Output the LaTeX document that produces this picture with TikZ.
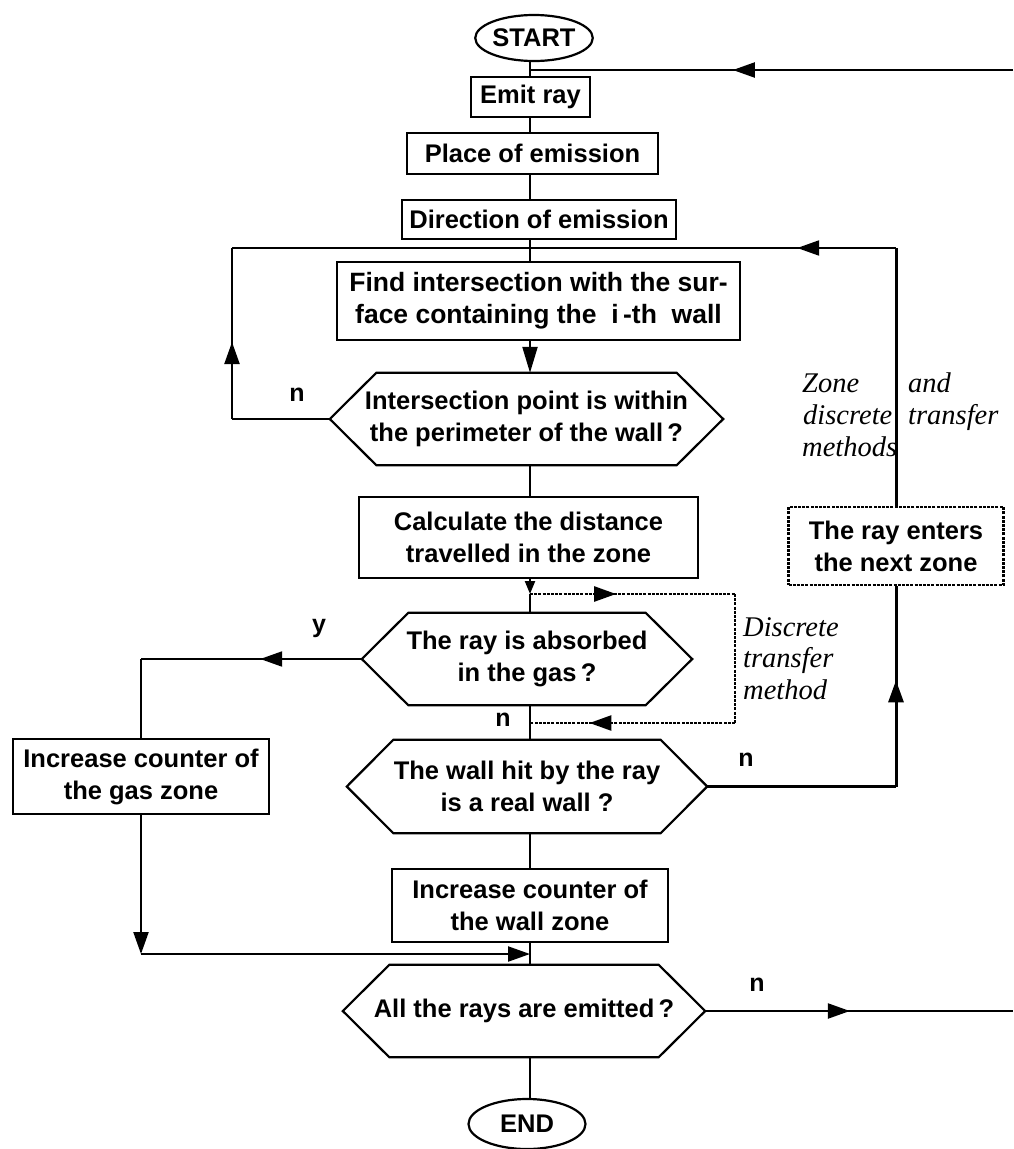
\documentclass[tikz,border=0pt]{standalone}
\usepackage{fontspec}
\setmainfont{Liberation Sans}
\newfontfamily\serifit{Liberation Serif}
\usetikzlibrary{arrows.meta,decorations.markings,calc,shapes.geometric}
\tikzset{
  txt/.style={font=\bfseries\fontsize{25.5}{32}\selectfont},
  box/.style={txt, draw, line width=2pt, rectangle, inner sep=0pt, align=center},
  hexn/.style={txt, rectangle, inner sep=0pt, align=center},
  hexline/.style={line width=2.2pt, line join=miter},
  oval/.style={txt, draw, ellipse, line width=2.2pt, inner sep=0pt},
  flow/.style={line width=2.2pt},
  thickflow/.style={line width=3pt},
  dotl/.style={line width=2.6pt, dash pattern=on 3pt off 1.2pt},
  tipend/.style={-{Triangle[length=22pt,width=15pt]}},
  midarrow/.style={postaction={decorate}, decoration={markings, mark=at position #1 with {\arrow{Triangle[length=22pt,width=15pt]}}}},
  lbl/.style={font=\bfseries\fontsize{25}{30}\selectfont, inner sep=0pt},
  note/.style={font=\serifit\itshape\fontsize{28.5}{31.5}\selectfont, inner sep=0pt, anchor=base west},
}
\newcommand\hexdraw[1]{\draw[hexline] (#1.west) -- ($(#1.north west)+(46.5,0)$) -- ($(#1.north east)+(-46.5,0)$) -- (#1.east) -- ($(#1.south east)+(-46.5,0)$) -- ($(#1.south west)+(46.5,0)$) -- cycle;}
\begin{document}
\begin{tikzpicture}[x=1pt,y=-1pt]
\useasboundingbox[fill=white] (0,0) rectangle (1013,1149);
\coordinate (mx) at (530,0);
% nodes
\node[oval, minimum width=116pt, minimum height=46pt] (start) at (534,38) {START};
\node[box, minimum width=119pt, minimum height=40pt] (emit) at (530.5,97) {Emit ray};
\node[box, minimum width=251pt, minimum height=41pt] (place) at (532.5,153.5) {Place of emission};
\node[box, minimum width=274pt, minimum height=39pt] (dir) at (539,219.5) {Direction of emission};
\node[box, minimum width=403pt, minimum height=78pt] (find) at (538.5,301) {\fontsize{26.5}{32}\selectfont Find intersection with the sur-\\\fontsize{26.5}{32}\selectfont face containing the\ \ i\,-th\ \ wall};
\node[hexn, minimum width=393pt, minimum height=92pt] (h1) at (526.5,419) {Intersection point is within\\the perimeter of the wall\,?};
\hexdraw{h1}
\node[box, minimum width=339pt, minimum height=81pt] (calc) at (528.5,537.5) {Calculate the distance\\travelled in the zone};
\node[hexn, minimum width=330pt, minimum height=92pt] (h2) at (527,659) {The ray is absorbed\\in the gas\,?};
\hexdraw{h2}
\node[hexn, minimum width=360pt, minimum height=93pt] (h3) at (527,786.5) {The wall hit by the ray\\is a real wall ?};
\hexdraw{h3}
\node[box, minimum width=276pt, minimum height=73pt] (wallz) at (530,905.5) {Increase counter of\\the wall zone};
\node[hexn, minimum width=362pt, minimum height=92pt] (h4) at (524,1011) {All the rays are emitted\,?};
\hexdraw{h4}
\node[oval, minimum width=117pt, minimum height=50pt] (end) at (527,1124) {END};
\node[box, minimum width=256pt, minimum height=75pt] (gas) at (141,776.5) {Increase counter of\\the gas zone};
\node[box, dash pattern=on 3pt off 1.2pt, line width=2.4pt, minimum width=215pt, minimum height=78pt] (next) at (896,546) {The ray enters\\the next zone};
% labels
\node[lbl] (nl1) at (297,395) {n};
\node[lbl] (yl) at (319,628) {y};
\node[lbl] (nl2) at (503,720) {n};
\node[lbl] (nl3) at (746,760) {n};
\node[lbl] (nl4) at (757,985) {n};
\node[note] (d1) at (743,636) {Discrete};
\node[note] (d2) at (743,667) {transfer};
\node[note] (d3) at (743,699) {method};
\node[note] (z1) at (802,392) {Zone};
\node[note] (z2) at (908,392) {and};
\node[note] (z3) at (803,424) {discrete};
\node[note] (z4) at (908,424) {transfer};
\node[note] (z5) at (802,456) {methods};
% main column
\coordinate (rin) at (1013,70);
\draw[flow, midarrow=0.58] (rin) -- (rin -| mx);
\draw[flow] (start.south -| mx) -- (emit.north -| mx);
\draw[flow] (emit.south -| mx) -- (place.north -| mx);
\draw[flow] (place.south -| mx) -- (dir.north -| mx);
\draw[flow] (dir.south -| mx) -- (find.north -| mx);
% loop from next zone
\coordinate (rtop) at (896,248);
\draw[thickflow] (next.north) -- (rtop);
\draw[flow, midarrow=0.27] (rtop) -- (rtop -| mx);
% left loop
\coordinate (ll) at (232,419);
\coordinate (lt) at (232,248);
\draw[flow] (h1.west) -- (ll);
\draw[flow, midarrow=0.45] (ll) -- (lt);
\draw[flow] (lt) -- (lt -| mx);
% find -> h1
\draw[flow, -{Triangle[length=26pt,width=15pt]}] (find.south -| mx) -- (h1.north -| mx);
\draw[flow] (h1.south -| mx) -- (calc.north -| mx);
% calc -> h2
\coordinate (dtop) at (530,594);
\coordinate (dr1) at (735,594);
\coordinate (dr2) at (735,723);
\coordinate (dbot) at (530,723);
\draw[flow, -{Triangle[length=13pt,width=10pt]}] (calc.south -| mx) -- (dtop);
\draw[flow] (dtop) -- (h2.north -| mx);
\draw[dotl, midarrow=0.42] (dtop) -- (dr1);
\draw[dotl] (dr1) -- (dr2);
\draw[dotl, midarrow=0.71] (dr2) -- (dbot);
\draw[flow] (h2.south -| mx) -- (h3.north -| mx);
% yes branch
\coordinate (gy) at (gas.north |- h2.west);
\draw[flow, midarrow=0.46] (h2.west) -- (gy);
\draw[flow] (gy) -- (gas.north);
\coordinate (gb) at (141,954);
\draw[flow, tipend] (gas.south) -- (gb);
\draw[flow, tipend] (gb) -- (gb -| mx);
% wall
\draw[flow] (h3.south -| mx) -- (wallz.north -| mx);
\draw[flow] (wallz.south -| mx) -- (h4.north -| mx);
% no -> next zone
\coordinate (hr) at (h3.east -| next.south);
\draw[thickflow] (h3.east) -- (hr);
\draw[thickflow, midarrow=0.53] (hr) -- (next.south);
% h4 out
\coordinate (rout) at (1013,1011);
\draw[flow, midarrow=0.47] (h4.east) -- (rout);
\draw[flow] (h4.south -| mx) -- (end.north -| mx);
\end{tikzpicture}
\end{document}
